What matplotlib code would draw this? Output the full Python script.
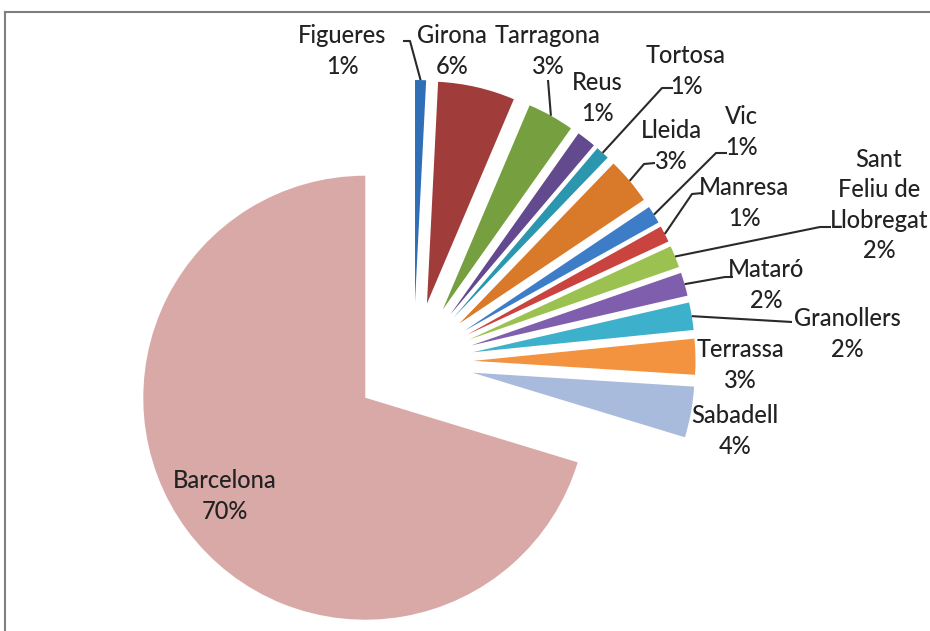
import matplotlib.pyplot as plt
from matplotlib.lines import Line2D
import numpy as np

W, H = 930, 631

# percentuals per ciutat (llegits del gràfic)
ciutats = ["Figueres", "Girona", "Tarragona", "Reus", "Tortosa", "Lleida", "Vic",
           "Manresa", "Sant\nFeliu de\nLlobregat", "Mataró", "Granollers",
           "Terrassa", "Sabadell", "Barcelona"]
valors = [0.8, 5.6, 3.4, 1.4, 1.0, 3.4, 1.3, 1.2, 1.6, 1.7, 2.0, 2.6, 3.7, 70.3]
colors = ["#2E6FB7", "#A03C3A", "#76A03F", "#634A8E", "#2C96AE", "#D97A2A",
          "#3D7DC8", "#C9433F", "#9BC250", "#7F5FAD", "#3DB0CB", "#F39340",
          "#A9BBDC", "#D8A9A7"]

# posicio de les etiquetes (pixels de la imatge, y cap avall)
pos_etiq = [(342, 51), (452, 51), (548, 51), (597, 98), (686, 71), (671, 146),
            (741, 132), (744, 203), (879, 205), (766, 285), (847, 334),
            (740, 365), (735, 431), (225, 496)]
# linies guia: punts des de l'etiqueta fins al colze
guies = {0: [(403, 41), (410, 41)],
         2: [(548, 80)],
         4: [(673, 88), (662, 88)],
         5: [(655, 163), (644, 164)],
         6: [(727, 153), (716, 153)],
         7: [(703, 193), (692, 194)],
         8: [(831, 227), (820, 227)],
         9: [(733, 277), (725, 277)],
         10: [(792, 322)]}

centre = (413.5, H - 362)
R = 222
expl = 60

plt.rcParams['font.family'] = ['Lato', 'DejaVu Sans']
fig = plt.figure(figsize=(W / 100, H / 100), dpi=100)
ax = fig.add_axes([0, 0, 1, 1])

wedges, _ = ax.pie(valors, colors=colors, startangle=90, counterclock=False,
                   radius=R, center=centre, explode=[expl] * len(valors),
                   wedgeprops=dict(linewidth=0))
ax.set_xlim(0, W)
ax.set_ylim(0, H)
ax.set_aspect('equal')
ax.axis('off')

tot = sum(valors)
for i, (nom, v) in enumerate(zip(ciutats, valors)):
    x, y = pos_etiq[i]
    ax.text(x, H - y, f"{nom}\n{round(v / tot * 100)}%", ha='center', va='center',
            fontsize=17, color='#222222', linespacing=1.4, fontweight='medium')

for i, punts in guies.items():
    w = wedges[i]
    tm = np.radians((w.theta1 + w.theta2) / 2)
    cx, cy = w.center
    ex, ey = cx + w.r * np.cos(tm), cy + w.r * np.sin(tm)
    xs = [p[0] for p in punts] + [ex]
    ys = [H - p[1] for p in punts] + [ey]
    ax.plot(xs, ys, color='#2a2a2a', lw=1.5, solid_capstyle='butt')

# marc
fig.add_artist(Line2D([5 / W, 1], [1 - 12 / H, 1 - 12 / H], color='#7f7f7f', lw=1.5,
                      transform=fig.transFigure))
fig.add_artist(Line2D([5 / W, 5 / W], [0, 1 - 12 / H], color='#7f7f7f', lw=1.5,
                      transform=fig.transFigure))

fig.savefig("out.png", dpi=100)
